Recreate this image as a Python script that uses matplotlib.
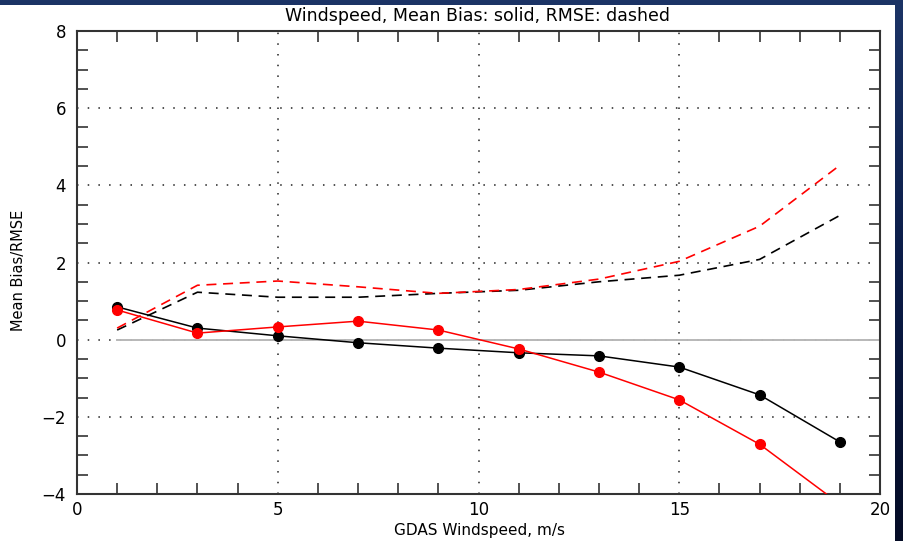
import matplotlib
matplotlib.use("Agg")
import matplotlib.pyplot as plt
from matplotlib.ticker import MultipleLocator
from matplotlib.patches import Rectangle
from matplotlib.colors import LinearSegmentedColormap
import numpy as np

# Data
wind = [1, 3, 5, 7, 9, 11, 13, 15, 17, 19]
bias_black = [0.85, 0.30, 0.10, -0.08, -0.22, -0.34, -0.42, -0.71, -1.43, -2.65]
bias_red = [0.77, 0.17, 0.33, 0.48, 0.25, -0.24, -0.84, -1.56, -2.71, -4.26]
rmse_black = [0.25, 1.23, 1.10, 1.10, 1.20, 1.28, 1.50, 1.67, 2.08, 3.22]
rmse_red = [0.30, 1.41, 1.52, 1.37, 1.20, 1.30, 1.57, 2.03, 2.94, 4.52]

xtick_vals = [0, 5, 10, 15, 20]
ytick_vals = [-4, -2, 0, 2, 4, 6, 8]

title = "Windspeed, Mean Bias: solid, RMSE: dashed"
xlabel = "GDAS Windspeed, m/s"
ylabel = "Mean Bias/RMSE"

W, H = 904, 541
fig = plt.figure(figsize=(W / 100, H / 100), dpi=100)
fig.patch.set_facecolor("#0b1c48")

# gradient background
bg = fig.add_axes([0, 0, 1, 1], zorder=-10)
grad = np.linspace(0, 1, 256).reshape(-1, 1)
cmap = LinearSegmentedColormap.from_list("bgc", ["#1c3466", "#0b1c48", "#050c26"])
bg.imshow(grad, aspect="auto", cmap=cmap, extent=[0, 1, 0, 1])
bg.axis("off")
bg.add_patch(Rectangle((0, 0), 895 / W, (H - 5) / H, transform=bg.transAxes,
                       facecolor="white", edgecolor="none", zorder=5))

ax = fig.add_axes([77 / W, 1 - 494 / H, (880 - 77) / W, (494 - 31) / H])
ax.set_facecolor("white")
ax.set_xlim(0, 20)
ax.set_ylim(-4, 8)

# grid (dotted)
for gx in [5, 10, 15]:
    ax.axvline(gx, color="#222222", lw=1.1, ls=(0, (1, 6)), zorder=1)
for gy in [-2, 0, 2, 4, 6]:
    ax.axhline(gy, color="#222222", lw=1.1, ls=(0, (1, 6)), zorder=1)
ax.plot([1, 20], [0, 0], color="#b8b8b8", lw=1.4, zorder=2)

# lines
ax.plot(wind, rmse_black, color="black", lw=1.2, ls=(0, (6, 4)), zorder=3)
ax.plot(wind, rmse_red, color="red", lw=1.2, ls=(0, (6, 4)), zorder=3)
ax.plot(wind, bias_black, color="black", lw=1.1, marker="o", ms=7, zorder=4)
ax.plot(wind, bias_red, color="red", lw=1.1, marker="o", ms=7, zorder=4)

ax.xaxis.set_major_locator(MultipleLocator(5))
ax.xaxis.set_minor_locator(MultipleLocator(1))
ax.yaxis.set_major_locator(MultipleLocator(2))
ax.yaxis.set_minor_locator(MultipleLocator(0.5))
ax.tick_params(which="major", length=0, labelsize=12, colors="black")
ax.tick_params(axis="x", which="major", pad=5)
ax.tick_params(axis="y", which="major", pad=8)
ax.tick_params(which="minor", direction="in", length=8, width=1.2,
               top=True, right=True, color="#333333")
ax.set_xticks(xtick_vals)
ax.set_xticklabels([str(v) for v in xtick_vals])
ax.set_yticks(ytick_vals)
ax.set_yticklabels([str(v).replace("-", "\u2212") for v in ytick_vals])
for s in ax.spines.values():
    s.set_linewidth(1.5)
    s.set_color("#333333")

fig.text(478 / W, 1 - 16 / H, title, ha="center", va="center", fontsize=12.5)
fig.text(480 / W, 1 - 531 / H, xlabel, ha="center", va="center", fontsize=11)
fig.text(19 / W, 1 - 270 / H, ylabel, ha="center", va="center", rotation=90, fontsize=10.5)

fig.savefig("out.png", dpi=100, facecolor=fig.get_facecolor())
